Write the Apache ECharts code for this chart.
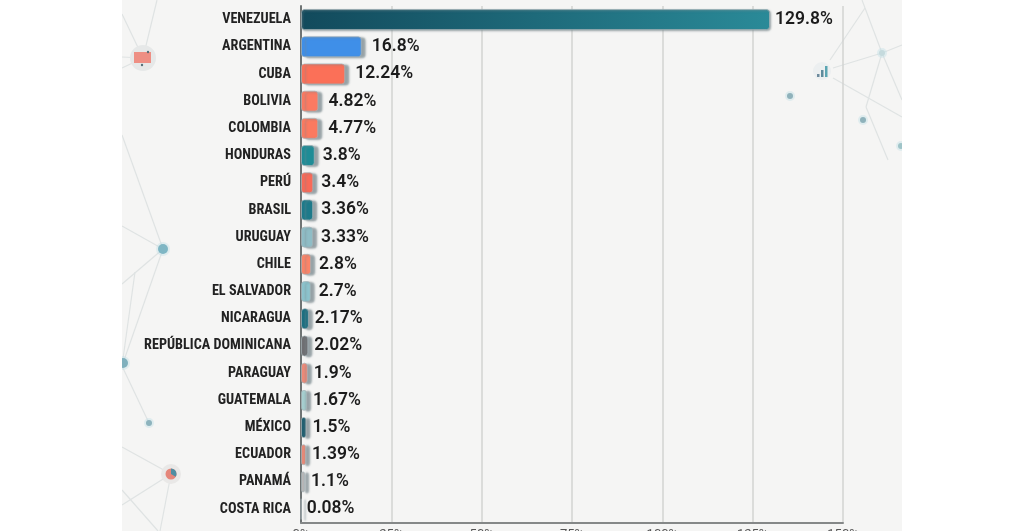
<!DOCTYPE html>
<html>
<head>
<meta charset="utf-8">
<style>html,body{margin:0;padding:0;background:#fff;overflow:hidden}#c{width:1024px;height:531px}</style>
<script src="https://cdn.jsdelivr.net/npm/echarts@6/dist/echarts.min.js"></script>
</head>
<body>
<div id="c"></div>
<script>
const countries = ["VENEZUELA","ARGENTINA","CUBA","BOLIVIA","COLOMBIA","HONDURAS","PERÚ","BRASIL","URUGUAY","CHILE","EL SALVADOR","NICARAGUA","REPÚBLICA DOMINICANA","PARAGUAY","GUATEMALA","MÉXICO","ECUADOR","PANAMÁ","COSTA RICA"];
const inflation = [129.8,16.8,12.24,4.82,4.77,3.8,3.4,3.36,3.33,2.8,2.7,2.17,2.02,1.9,1.67,1.5,1.39,1.1,0.08];
const barColors = ["#1d6f80","#3f8fe8","#fb7058","#fa7a62","#fb7a60","#1f8c96","#f86a58","#1d7a8a","#8fbdc6","#fb8468","#8cc3cc","#1c6f80","#6f6f72","#ee8a78","#a7cfd0","#215f70","#e88a78","#b8b8b8","#aaaaaa"];
const xTicks = [0,25,50,75,100,125,150];

const lineStyle = {stroke:"#dfe3e3",lineWidth:1.2};
const netLines = [
 [[143,58],[157,0]],[[143,58],[122,14]],[[143,58],[122,57]],[[143,58],[122,68]],[[122,135],[163,249]],
 [[122,226],[163,249]],[[163,249],[122,366]],[[163,249],[122,284]],[[135,272],[122,366]],
 [[122,366],[149,423]],[[122,447],[171,474]],[[171,474],[122,505]],[[171,474],[160,531]],[[122,490],[158,531]],
 [[830,60],[865,8]],[[865,8],[862,0]],[[865,8],[882,53]],[[882,53],[902,100]],[[833,68],[882,53]],[[882,53],[902,45]],
 [[833,78],[902,117]],[[882,53],[866,107]],[[866,107],[888,160]]
];
const deco = [{type:"rect",shape:{x:122,y:0,width:780,height:531},style:{fill:"#f5f5f4"},silent:true,z:-10}];
netLines.forEach(l=>deco.push({type:"line",shape:{x1:l[0][0],y1:l[0][1],x2:l[1][0],y2:l[1][1]},style:lineStyle,silent:true,z:-9}));
const dots = [[163,249,5,"#7fb6c4"],[123,363,5,"#7fb0bd"],[149,423,3,"#8db3bd"],[790,96,3,"#8fb2bb"],[863,120,3,"#8fb2bb"],[901,146,3,"#9fc4c8"],[882,53,3,"#c5dadd"]];
dots.forEach(d=>deco.push({type:"circle",shape:{cx:d[0],cy:d[1],r:d[2]+2},style:{fill:"rgba(190,222,230,0.4)"},silent:true,z:-8},{type:"circle",shape:{cx:d[0],cy:d[1],r:d[2]},style:{fill:d[3]},silent:true,z:-8}));
deco.push(
 {type:"circle",shape:{cx:143,cy:58,r:13},style:{fill:"#e6e8e8"},silent:true,z:-8},
 {type:"rect",shape:{x:134,y:52,width:17,height:11},style:{fill:"#ee8f84"},silent:true,z:-8},
 {type:"circle",shape:{cx:148,cy:52,r:1.2},style:{fill:"#55707a"},silent:true,z:-8},
 {type:"circle",shape:{cx:142,cy:65,r:1.2},style:{fill:"#55707a"},silent:true,z:-8},
 {type:"circle",shape:{cx:822,cy:71,r:9},style:{fill:"#eceff0"},silent:true,z:-8},
 {type:"rect",shape:{x:817,y:74,width:2.5,height:3},style:{fill:"#6d8a9c"},silent:true,z:-8},
 {type:"rect",shape:{x:821,y:70,width:2.5,height:7},style:{fill:"#5d8a9c"},silent:true,z:-8},
 {type:"rect",shape:{x:825,y:66,width:2.5,height:11},style:{fill:"#5aa5b2"},silent:true,z:-8},
 {type:"circle",shape:{cx:171,cy:474,r:10},style:{fill:"#e9e8e7"},silent:true,z:-8},
 {type:"circle",shape:{cx:171,cy:474,r:5.5},style:{fill:"#e5867a"},silent:true,z:-8},
 {type:"sector",shape:{cx:171,cy:474,r:5.5,r0:0,startAngle:-Math.PI/2,endAngle:Math.PI/6},style:{fill:"#4f8ea3"},silent:true,z:-8},
 {type:"rect",shape:{x:0,y:0,width:122,height:531},style:{fill:"#fff"},silent:true,z:-7},
 {type:"rect",shape:{x:902,y:0,width:122,height:531},style:{fill:"#fff"},silent:true,z:-7}
);

const labelGap = v => v>100?5:v>=4?10:v>=2.5?8:v>=1?6:5;

const chart = echarts.init(document.getElementById("c"),null,{renderer:"canvas"});
chart.setOption({
 animation:false,
 backgroundColor:"#ffffff",
 graphic:deco,
 grid:{left:301,right:181,top:6,bottom:8.3,containLabel:false,outerBoundsMode:"none"},
 xAxis:{type:"value",min:0,max:150,interval:25,
  axisLine:{show:true,onZero:false,lineStyle:{color:"#858888",width:2}},axisTick:{show:false},
  splitLine:{show:true,lineStyle:{color:"#d2d3d2",width:1.5}},
  axisLabel:{margin:6,color:"#555",fontSize:13,fontFamily:"Roboto",formatter:v=>xTicks.includes(v)?v+"%":""}},
 yAxis:{type:"category",inverse:true,data:countries,
  axisLine:{show:true,onZero:false,lineStyle:{color:"#6f7474",width:2}},axisTick:{show:false},
  axisLabel:{margin:10,color:"#222",fontSize:14.2,fontWeight:"bold",fontFamily:"'Roboto Condensed','Liberation Sans Narrow',Roboto,sans-serif"}},
 series:[{
  type:"bar",barWidth:21,
  data:inflation.map((v,i)=>({value:v,
    itemStyle:i===0?{color:new echarts.graphic.LinearGradient(0,0,1,0,[{offset:0,color:"#124a5c"},{offset:1,color:"#2a8a98"}]),shadowOffsetX:1}:{color:barColors[i]},
    label:{distance:labelGap(v)}})),
  itemStyle:{borderRadius:3,borderColor:"rgba(165,178,182,0.7)",borderWidth:1,shadowColor:"rgba(120,135,140,0.75)",shadowBlur:2,shadowOffsetX:4,shadowOffsetY:1},
  label:{show:true,position:"right",color:"#1c1c1c",fontSize:17.5,fontWeight:600,fontFamily:"Roboto",formatter:p=>p.value+"%"}
 }]
});
</script>
</body>
</html>
